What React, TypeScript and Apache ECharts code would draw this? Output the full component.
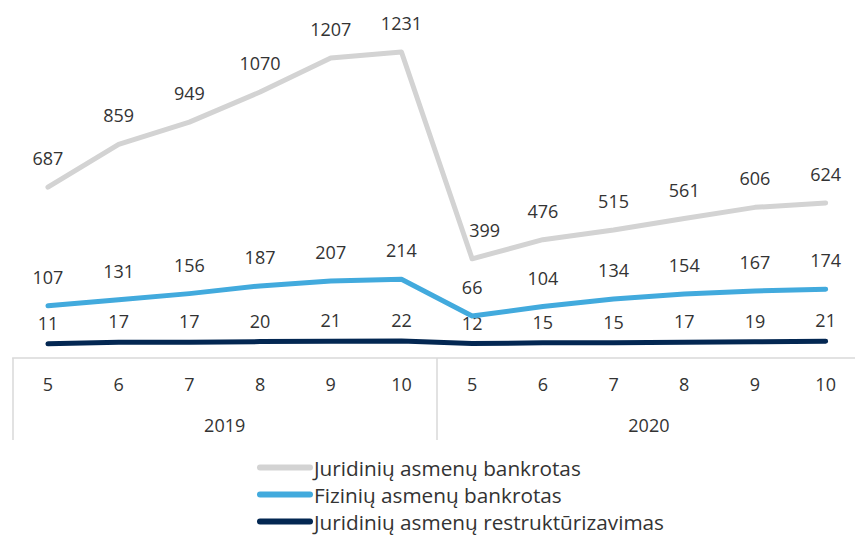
import React, { useEffect, useRef } from "react";
import * as echarts from "echarts";

const months = ["5", "6", "7", "8", "9", "10", "5", "6", "7", "8", "9", "10"];
const years = ["2019", "2020"];
const seriesNames = [
  "Juridinių asmenų bankrotas",
  "Fizinių asmenų bankrotas",
  "Juridinių asmenų restruktūrizavimas",
];
const juridBankrotas = [687, 859, 949, 1070, 1207, 1231, 399, 476, 515, 561, 606, 624];
const fizBankrotas = [107, 131, 156, 187, 207, 214, 66, 104, 134, 154, 167, 174];
const juridRestrukt = [11, 17, 17, 20, 21, 22, 12, 15, 15, 17, 19, 21];

const colors = ["#d3d3d3", "#42aadd", "#032752"];
const FONT = "'Open Sans', 'Noto Sans', sans-serif";

export default function App() {
  const ref = useRef<HTMLDivElement>(null);
  useEffect(() => {
    if (!ref.current) return;
    const chart = echarts.init(ref.current, undefined, { renderer: "svg" });
    const labelBase = {
      show: true,
      position: "top" as const,
      color: "#333333",
      fontSize: 18,
      fontFamily: FONT,
    };
    const mk = (i: number, data: any[], yIdx: number, dist: number) => ({
      name: seriesNames[i],
      type: "line",
      xAxisIndex: 0,
      yAxisIndex: yIdx,
      data,
      symbol: "circle",
      symbolSize: 0.01,
      showSymbol: true,
      smooth: false,
      lineStyle: { color: colors[i], width: 5, cap: "round", join: "round" },
      itemStyle: { color: colors[i] },
      label: { ...labelBase, distance: dist },
      z: 3 + (2 - i),
    });
    const gData = juridBankrotas.map((v, idx) =>
      idx === 6
        ? { value: v, label: { ...labelBase, distance: 20, padding: [0, 0, 0, 25] } }
        : v
    );
    chart.setOption({
      animation: false,
      backgroundColor: "#ffffff",
      textStyle: { fontFamily: FONT },
      grid: {
        left: 12.6,
        top: 10,
        width: 848.4,
        bottom: 181,
        containLabel: false,
        outerBoundsMode: "none",
      },
      xAxis: [
        {
          type: "category",
          data: months,
          position: "bottom",
          boundaryGap: true,
          axisLine: { show: true, onZero: false, lineStyle: { color: "#d9d9d9", width: 1.5 } },
          axisTick: { show: false },
          axisLabel: { color: "#333333", fontSize: 18, margin: 17, fontFamily: FONT, interval: 0 },
          splitLine: { show: false },
        },
        {
          type: "category",
          data: years,
          position: "bottom",
          boundaryGap: true,
          axisLine: { show: false, onZero: false },
          axisTick: { show: true, length: 82, lineStyle: { color: "#d9d9d9", width: 1.5 } },
          axisLabel: { color: "#333333", fontSize: 18, margin: 58, fontFamily: FONT },
          splitLine: { show: false },
        },
      ],
      yAxis: [
        { type: "value", min: 0, max: 1400, show: false, position: "left" },
        { type: "value", min: -103, max: 1297, show: false, position: "left" },
        { type: "value", min: -46, max: 1354, show: false, position: "left" },
      ],
      legend: {
        orient: "vertical",
        left: 252,
        top: 452,
        itemGap: 6,
        itemWidth: 56,
        itemHeight: 6,
        icon: "path://M3,0 L53,0 A3,3 0 0 1 53,6 L3,6 A3,3 0 0 1 3,0 Z",
        textStyle: { color: "#333333", fontSize: 20.75, fontFamily: FONT, padding: [0, 0, 0, -4] },
        data: seriesNames,
      },
      series: [
        mk(0, gData, 0, 20),
        mk(1, fizBankrotas, 1, 20),
        mk(2, juridRestrukt, 2, 12),
      ],
    });
    return () => chart.dispose();
  }, []);
  return (
    <div
      ref={ref}
      style={{ position: "fixed", left: 0, top: 0, width: 855, height: 539, background: "#fff" }}
    />
  );
}
